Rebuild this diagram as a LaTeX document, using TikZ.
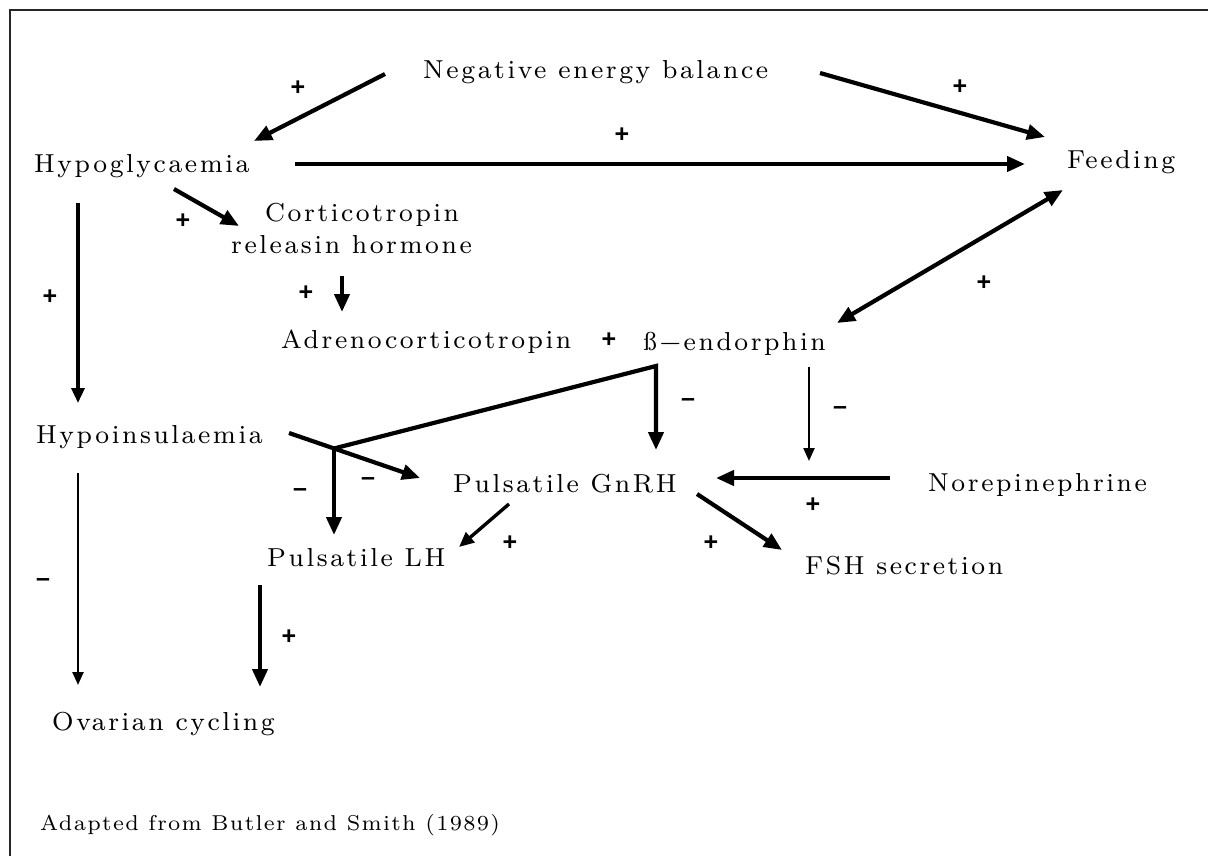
\documentclass[tikz,border=0pt]{standalone}
\usepackage{fontspec}
\usetikzlibrary{arrows.meta,calc}
\newfontfamily\signfont{Liberation Sans}
\newfontfamily\labfont{lmroman8-regular.otf}[LetterSpace=10]
\newfontfamily\srcfont{lmroman7-regular.otf}[LetterSpace=6]
\begin{document}
\begin{tikzpicture}[x=1pt,y=-1pt,
  lab/.style={inner sep=0pt, anchor=base west,
    font=\labfont\fontsize{26}{30}\selectfont},
  srclab/.style={inner sep=0pt, anchor=base west,
    font=\srcfont\fontsize{21.5}{25}\selectfont},
  sgn/.style={inner sep=0pt, font=\signfont\bfseries\fontsize{25}{28}\selectfont},
  big/.style={line width=4.2pt, -{Triangle[length=18pt,width=15pt]}},
  mid/.style={line width=3.4pt, -{Triangle[length=15pt,width=13pt]}},
  thin/.style={line width=2.3pt, -{Triangle[length=13pt,width=11pt]}},
  dbl/.style={line width=4.2pt, {Triangle[length=18pt,width=15pt]}-{Triangle[length=18pt,width=15pt]}},
  frame/.style={line width=2pt, black!85}]
\useasboundingbox (0,0) rectangle (1208,856);

% frame (top and left edges)
\draw[frame] (1208,10.5) -- (9.5,10.5) -- (9.5,856);

% labels
\node[lab] (neb)  at (423,79)  {Negative energy balance};
\node[lab] (hypo) at (34,172)  {Hypoglycaemia};
\node[lab] (feed) at (1067,169) {Feeding};
\node[lab] (crh)  at (265,221) {Corticotropin};
\node[lab] (crhb) at (231,253) {releasin hormone};
\node[lab] (acth) at (281,348) {Adrenocorticotropin};
\node[lab] (bend) at (643,350) {ß−endorphin};
\node[lab] (hins) at (36,443)  {Hypoinsulaemia};
\node[lab] (gnrh) at (453,492) {Pulsatile GnRH};
\node[lab] (nor)  at (928,491) {Norepinephrine};
\node[lab] (lh)   at (267,566) {Pulsatile LH};
\node[lab] (fsh)  at (805,574) {FSH secretion};
\node[lab] (ovar) at (52,730)  {Ovarian cycling};
\node[srclab] (src) at (40,830) {Adapted from Butler and Smith (1989)};

% connector end points, placed relative to the labels
\coordinate (n1s) at ($(neb.base west)+(-38,-5)$);
\coordinate (n1e) at ($(hypo.base west)+(220,-31)$);
\coordinate (n2s) at ($(neb.base west)+(397,-6)$);
\coordinate (n2e) at ($(feed.base west)+(-22,-32)$);
\coordinate (n3s) at ($(hypo.base west)+(261,-8)$);
\coordinate (n3e) at ($(feed.base west)+(-42,-5)$);
\coordinate (n4s) at ($(hypo.base west)+(140,17)$);
\coordinate (n4e) at ($(crh.base west)+(-26,5)$);
\coordinate (n5s) at ($(crhb.base west)+(111,23)$);
\coordinate (n5e) at ($(acth.base west)+(61,-36)$);
\coordinate (n6s) at ($(feed.base west)+(-4,21)$);
\coordinate (n6e) at ($(bend.base west)+(194,-27)$);
\coordinate (n7s) at ($(hypo.base west)+(44,31)$);
\coordinate (n7e) at ($(hins.base west)+(42,-40)$);
\coordinate (n8s) at ($(hins.base west)+(42,30)$);
\coordinate (n8e) at ($(ovar.base west)+(26,-45)$);
\coordinate (n9s) at ($(lh.base west)+(-7,19)$);
\coordinate (n9e) at ($(ovar.base west)+(208,-43)$);
\coordinate (corner) at ($(bend.base west)+(13,16)$);
\coordinate (gtop)   at ($(gnrh.base west)+(203,-42)$);
\coordinate (junc)   at ($(hins.base west)+(298,5.5)$);
\coordinate (ltop)   at ($(lh.base west)+(67,-31)$);
\coordinate (hs)     at ($(hins.base west)+(253,-10)$);
\coordinate (ge)     at ($(gnrh.base west)+(-33,-14)$);
\coordinate (bs)     at ($(bend.base west)+(166,17)$);
\coordinate (be)     at ($(nor.base west)+(-119,-30)$);
\coordinate (ns)     at ($(nor.base west)+(-38,-13)$);
\coordinate (ne)     at ($(gnrh.base west)+(263,-14)$);
\coordinate (g1s)    at ($(gnrh.base west)+(56,12)$);
\coordinate (g1e)    at ($(lh.base west)+(192,-19)$);
\coordinate (g2s)    at ($(gnrh.base west)+(244,2)$);
\coordinate (g2e)    at ($(fsh.base west)+(-23,-24)$);

% connectors
\draw[big] (n1s) -- (n1e);
\draw[big] (n2s) -- (n2e);
\draw[big] (n3s) -- (n3e);
\draw[big] (n4s) -- (n4e);
\draw[big] (n5s) -- (n5e);
\draw[dbl] (n6s) -- (n6e);
\draw[mid] (n7s) -- (n7e);
\draw[thin] (n8s) -- (n8e);
\draw[big] (n9s) -- (n9e);
\draw[big, miter limit=20] (junc) -- (corner) -- (gtop);
\draw[big] (junc) -- (ltop);
\draw[big] (hs) -- (ge);
\draw[thin] (bs) -- (be);
\draw[big] (ns) -- (ne);
\draw[mid] (g1s) -- (g1e);
\draw[big] (g2s) -- (g2e);

% signs on the connectors
\node[sgn] (p1)  at (298,88)  {+};
\node[sgn] (p2)  at (960,87)  {+};
\node[sgn] (p3)  at (622,135) {+};
\node[sgn] (p4)  at (183,221) {+};
\node[sgn] (p5)  at (306,293) {+};
\node[sgn] (p6)  at (50,297)  {+};
\node[sgn] (p7)  at (984,283) {+};
\node[sgn] (p8)  at (609,340) {+};
\node[sgn] (m1)  at (688,403) {\textendash};
\node[sgn] (m2)  at (840,411) {\textendash};
\node[sgn] (m3)  at (368,482) {\textendash};
\node[sgn] (m4)  at (300,493) {\textendash};
\node[sgn] (p9)  at (510,543) {+};
\node[sgn] (p10) at (813,505) {+};
\node[sgn] (p11) at (711,543) {+};
\node[sgn] (m5)  at (43,583)  {\textendash};
\node[sgn] (p12) at (289,637) {+};
\end{tikzpicture}
\end{document}
